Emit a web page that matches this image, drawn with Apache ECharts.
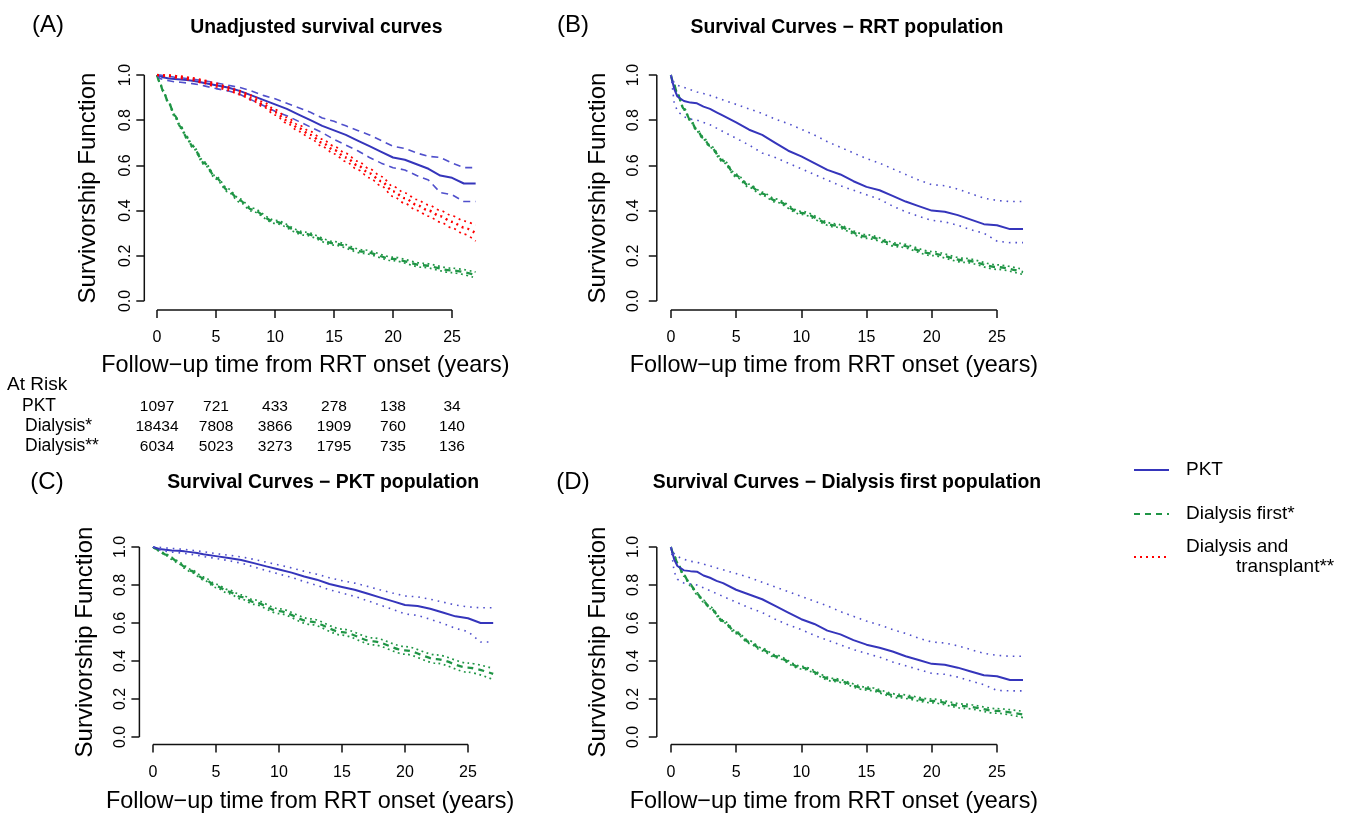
<!DOCTYPE html>
<html><head><meta charset="utf-8">
<script src="https://cdn.jsdelivr.net/npm/echarts@6/dist/echarts.min.js"></script>
<style>html,body{margin:0;padding:0;background:#fff}#c{width:1352px;height:815px}</style>
</head><body><div id="c"></div>
<script>
const FONT = '"Liberation Sans", Arial, Helvetica, sans-serif';

// ---- tick labels / texts ----
const xTicks = [0, 5, 10, 15, 20, 25];
const yTicks = [0, 0.2, 0.4, 0.6, 0.8, 1.0];
const panelLabels = ['(A)', '(B)', '(C)', '(D)'];
const panelTitles = ['Unadjusted survival curves', 'Survival Curves \u2212 RRT population',
  'Survival Curves \u2212 PKT population', 'Survival Curves \u2212 Dialysis first population'];
const xTitle = 'Follow\u2212up time from RRT onset (years)';
const yTitle = 'Survivorship Function';
const seriesNames = ['PKT', 'Dialysis first*', 'Dialysis and transplant**'];

// ---- at-risk table (panel A) ----
const atRiskTimes = [0, 5, 10, 15, 20, 25];
const atRiskLabels = ['PKT', 'Dialysis*', 'Dialysis**'];
const atRiskPKT = [1097, 721, 433, 278, 138, 34];
const atRiskDialysis = [18434, 7808, 3866, 1909, 760, 140];
const atRiskDialysisTx = [6034, 5023, 3273, 1795, 735, 136];

// ---- time grids ----
const tKM = [0,0.25,0.5,1,1.5,2,2.5,3,3.5,4,5,6,7,8,9,10,11,12,13,14,15,16,17,18,19,20,21,22,23,24,25,26,27];
const tYear = [0,1,2,3,4,5,6,7,8,9,10,11,12,13,14,15,16,17,18,19,20,21,22,23,24,25,26,27];
const tG = [0,0.25,0.5,1,1.5,2,2.5,3,4,5,6,7,8,10,12.5,15,17.5,20,22.5,25,27];

// ---- Panel A ----
const pktA   = [1.0,.995,.99,.985,.982,.98,.978,.975,.97,.965,.955,.945,.93,.91,.89,.87,.85,.825,.80,.775,.755,.735,.71,.685,.66,.635,.625,.605,.585,.555,.545,.52,.52];
const pktAUp = [1.0,1.0,.998,.995,.99,.988,.985,.982,.978,.975,.965,.955,.945,.93,.91,.895,.875,.855,.835,.81,.795,.775,.755,.735,.71,.685,.675,.655,.64,.635,.61,.59,.59];
const pktALo = [1.0,.985,.98,.975,.97,.968,.965,.962,.958,.952,.94,.93,.915,.89,.865,.84,.82,.795,.77,.745,.715,.69,.665,.635,.61,.59,.58,.555,.535,.48,.47,.44,.44];
const dialA   = [1.0,.965,.93,.875,.82,.77,.725,.685,.61,.545,.49,.445,.405,.35,.298,.255,.218,.186,.158,.135,.115];
const dialAUp = [1.0,.967,.933,.879,.825,.775,.73,.69,.616,.551,.497,.452,.412,.357,.305,.263,.226,.194,.167,.145,.128];
const dialALo = [1.0,.963,.927,.871,.815,.765,.72,.68,.604,.539,.483,.438,.398,.343,.291,.247,.21,.178,.149,.125,.102];
const txA   = [1.0,.997,.99,.982,.97,.955,.94,.922,.90,.87,.835,.80,.765,.735,.70,.668,.635,.60,.565,.53,.485,.455,.425,.40,.375,.35,.325,.30];
const txAUp = [1.0,1.0,.995,.988,.977,.963,.948,.931,.91,.881,.847,.813,.779,.75,.716,.685,.653,.619,.585,.551,.507,.478,.449,.425,.401,.377,.354,.335];
const txALo = [1.0,.993,.985,.976,.963,.947,.932,.913,.89,.859,.823,.787,.751,.72,.684,.651,.617,.581,.545,.509,.463,.432,.401,.375,.349,.323,.296,.265];

// ---- Panel B ----
const pktB   = [1.0,.94,.905,.885,.878,.875,.86,.85,.835,.82,.79,.758,.735,.70,.665,.64,.61,.58,.56,.53,.505,.49,.465,.44,.42,.40,.395,.38,.36,.34,.335,.318,.318];
const pktBUp = [1.0,.965,.955,.945,.935,.925,.918,.91,.90,.89,.87,.85,.83,.805,.785,.76,.735,.705,.68,.655,.63,.61,.585,.56,.535,.515,.51,.495,.475,.455,.445,.44,.44];
const pktBLo = [1.0,.88,.84,.815,.805,.80,.79,.78,.765,.75,.72,.69,.655,.635,.61,.585,.56,.535,.51,.49,.47,.45,.42,.395,.375,.357,.35,.335,.315,.30,.265,.258,.258];
const dialB   = [1.0,.955,.915,.85,.80,.755,.72,.685,.62,.555,.51,.475,.445,.39,.335,.285,.247,.21,.18,.15,.128];
const dialBUp = [1.0,.958,.918,.854,.805,.76,.725,.69,.626,.561,.517,.482,.452,.397,.342,.293,.255,.219,.189,.16,.14];
const dialBLo = [1.0,.952,.912,.846,.795,.75,.715,.68,.614,.549,.503,.468,.438,.383,.328,.277,.239,.201,.171,.14,.117];

// ---- Panel C ----
const pktC   = [1.0,.995,.99,.985,.982,.98,.977,.973,.968,.962,.952,.942,.932,.915,.898,.882,.865,.845,.828,.805,.79,.775,.755,.735,.715,.695,.69,.675,.655,.635,.625,.60,.60];
const pktCUp = [1.0,1.0,.998,.995,.992,.99,.987,.984,.98,.975,.965,.957,.948,.935,.92,.905,.89,.872,.857,.838,.823,.81,.793,.775,.758,.742,.738,.725,.71,.695,.685,.68,.68];
const pktCLo = [1.0,.99,.985,.978,.973,.97,.967,.962,.956,.95,.94,.928,.915,.895,.876,.858,.84,.818,.798,.775,.758,.74,.718,.695,.672,.648,.64,.62,.598,.572,.555,.50,.50];
const dialC   = [1.0,.99,.98,.96,.94,.92,.895,.875,.835,.795,.765,.737,.71,.662,.607,.552,.503,.456,.41,.365,.332];
const dialCUp = [1.0,.992,.983,.964,.945,.926,.901,.882,.843,.804,.775,.748,.722,.675,.622,.568,.521,.476,.432,.389,.36];
const dialCLo = [1.0,.988,.977,.956,.935,.914,.889,.868,.827,.786,.755,.726,.698,.649,.592,.536,.485,.436,.388,.341,.302];

// ---- Panel D ----
const pktD   = [1.0,.935,.90,.877,.873,.87,.85,.838,.822,.81,.775,.75,.725,.69,.655,.62,.595,.56,.54,.51,.486,.47,.45,.425,.405,.385,.38,.365,.345,.325,.32,.30,.30];
const pktDUp = [1.0,.965,.95,.935,.925,.92,.91,.90,.89,.88,.86,.84,.815,.79,.765,.74,.715,.69,.66,.635,.61,.59,.565,.545,.52,.50,.495,.48,.46,.44,.43,.425,.425];
const pktDLo = [1.0,.87,.83,.81,.805,.80,.785,.77,.755,.74,.71,.68,.655,.62,.59,.565,.535,.51,.485,.46,.44,.42,.395,.375,.355,.335,.33,.315,.295,.275,.245,.243,.243];
const dialD   = [1.0,.955,.915,.85,.80,.755,.715,.68,.61,.55,.50,.46,.425,.365,.30,.255,.215,.19,.162,.137,.118];
const dialDUp = [1.0,.958,.918,.854,.805,.76,.72,.685,.616,.556,.507,.467,.432,.372,.308,.263,.224,.2,.173,.149,.135];
const dialDLo = [1.0,.952,.912,.846,.795,.75,.71,.675,.604,.544,.493,.453,.418,.358,.292,.247,.206,.18,.151,.125,.102];

// ---- styling / layout ----
const BLUE = '#3535bb', BLUE_CI = '#5050cc', GREEN = '#1f9545', RED = '#ff0000';
const xMin = -1.08, xMax = 28.08, yMin = -0.04, yMax = 1.04;
const layout = [
  {left:144.3, top:66,    width:344.1, height:244,   yLabM:11, yNameGap:44, xNameGap:44, xShift:22, lblX:48,  lblY:13,  ttlY:18},
  {left:656.8, top:66,    width:380.3, height:244,   yLabM:15, yNameGap:46.5, xNameGap:44, xShift:26, lblX:573, lblY:13,  ttlY:18},
  {left:139.4, top:539.4, width:367.4, height:205.2, yLabM:11, yNameGap:42.5, xNameGap:45, xShift:26, lblX:47,  lblY:470, ttlY:473},
  {left:656.8, top:539.4, width:380.3, height:205.2, yLabM:15, yNameGap:46.5, xNameGap:45, xShift:26, lblX:573, lblY:470, ttlY:473}
];

const panelData = [
  {pkt:[pktA,pktAUp,pktALo], ciType:[7,5], dial:[dialA,dialAUp,dialALo], tx:[txA,txAUp,txALo]},
  {pkt:[pktB,pktBUp,pktBLo], ciType:[1.6,5], dial:[dialB,dialBUp,dialBLo]},
  {pkt:[pktC,pktCUp,pktCLo], ciType:[1.6,5], dial:[dialC,dialCUp,dialCLo]},
  {pkt:[pktD,pktDUp,pktDLo], ciType:[1.6,5], dial:[dialD,dialDUp,dialDLo]}
];

const zip = (t, v) => t.map((x, i) => [x, v[i]]);
const grids = [], xAxes = [], yAxes = [], series = [], titles = [];

layout.forEach((L, i) => {
  grids.push({left:L.left, top:L.top, width:L.width, height:L.height, containLabel:false});
  xAxes.push({
    type:'value', gridIndex:i, min:xMin, max:xMax,
    splitLine:{show:false}, axisLine:{show:false, onZero:false},
    axisTick:{show:true, customValues:xTicks, length:8, lineStyle:{color:'#111', width:1.5}},
    axisLabel:{customValues:xTicks, margin:20, fontSize:16, color:'#000', fontFamily:FONT},
    name:xTitle, nameLocation:'middle', nameGap:L.xNameGap,
    nameTextStyle:{fontSize:23.4, color:'#000', fontFamily:FONT, padding:[0, L.xShift, 0, 0]}
  });
  yAxes.push({
    type:'value', gridIndex:i, min:yMin, max:yMax,
    splitLine:{show:false}, axisLine:{show:false, onZero:false},
    axisTick:{show:true, customValues:yTicks, length:8, lineStyle:{color:'#111', width:1.5}},
    axisLabel:{customValues:yTicks, rotate:90, margin:L.yLabM, fontSize:16, color:'#000', fontFamily:FONT,
      formatter:v => v.toFixed(1)},
    name:yTitle, nameLocation:'middle', nameGap:L.yNameGap,
    nameTextStyle:{fontSize:24, color:'#000', fontFamily:FONT}
  });
  titles.push({text:panelLabels[i], left:L.lblX, top:L.lblY, textAlign:'center', padding:0,
    textStyle:{fontSize:24, fontWeight:'normal', color:'#000', fontFamily:FONT}});
  titles.push({text:panelTitles[i], left:L.left + L.width / 2, top:L.ttlY, textAlign:'center', padding:0,
    textStyle:{fontSize:19.4, fontWeight:'bold', color:'#000', fontFamily:FONT}});

  // R-style axis lines spanning first..last tick
  series.push({
    type:'custom', xAxisIndex:i, yAxisIndex:i, silent:true, clip:false, data:[[0, 0]], z:1,
    renderItem:(params, api) => {
      const a = api.coord([xTicks[0], yMin]), b = api.coord([xTicks[xTicks.length - 1], yMin]);
      const c = api.coord([xMin, yTicks[0]]), d = api.coord([xMin, yTicks[yTicks.length - 1]]);
      const st = {stroke:'#111', lineWidth:1.5};
      return {type:'group', children:[
        {type:'line', shape:{x1:a[0], y1:a[1], x2:b[0], y2:b[1]}, style:st},
        {type:'line', shape:{x1:c[0], y1:c[1], x2:d[0], y2:d[1]}, style:st}
      ]};
    }
  });

  const P = panelData[i];
  const base = {type:'line', xAxisIndex:i, yAxisIndex:i, symbol:'none', silent:true, animation:false};
  // green: dialysis first
  series.push(Object.assign({}, base, {name:seriesNames[1], data:zip(tG, P.dial[0]), smooth:0.3, smoothMonotone:'x', z:3,
    lineStyle:{color:GREEN, width:2.3, type:[6, 5]}, itemStyle:{color:GREEN}}));
  series.push(Object.assign({}, base, {name:'Dialysis first* upper', data:zip(tG, P.dial[1]), smooth:0.3, smoothMonotone:'x', z:3,
    lineStyle:{color:GREEN, width:1.7, type:[1.8, 3.5]}, itemStyle:{color:GREEN}}));
  series.push(Object.assign({}, base, {name:'Dialysis first* lower', data:zip(tG, P.dial[2]), smooth:0.3, smoothMonotone:'x', z:3,
    lineStyle:{color:GREEN, width:1.7, type:[1.8, 3.5]}, itemStyle:{color:GREEN}}));
  // blue: PKT
  series.push(Object.assign({}, base, {name:seriesNames[0], data:zip(tKM, P.pkt[0]), z:4,
    lineStyle:{color:BLUE, width:2, type:'solid'}, itemStyle:{color:BLUE}}));
  series.push(Object.assign({}, base, {name:'PKT upper', data:zip(tKM, P.pkt[1]), z:4,
    lineStyle:{color:BLUE_CI, width:1.6, type:P.ciType}, itemStyle:{color:BLUE_CI}}));
  series.push(Object.assign({}, base, {name:'PKT lower', data:zip(tKM, P.pkt[2]), z:4,
    lineStyle:{color:BLUE_CI, width:1.6, type:P.ciType}, itemStyle:{color:BLUE_CI}}));
  // red: dialysis and transplant (panel A only)
  if (P.tx) {
    series.push(Object.assign({}, base, {name:seriesNames[2], data:zip(tYear, P.tx[0]), smooth:0.3, smoothMonotone:'x', z:5,
      lineStyle:{color:RED, width:2.4, type:[2, 4]}, itemStyle:{color:RED}}));
    series.push(Object.assign({}, base, {name:'Dialysis and transplant** upper', data:zip(tYear, P.tx[1]), smooth:0.3, smoothMonotone:'x', z:5,
      lineStyle:{color:RED, width:1.7, type:[2, 4]}, itemStyle:{color:RED}}));
    series.push(Object.assign({}, base, {name:'Dialysis and transplant** lower', data:zip(tYear, P.tx[2]), smooth:0.3, smoothMonotone:'x', z:5,
      lineStyle:{color:RED, width:1.7, type:[2, 4]}, itemStyle:{color:RED}}));
  }
});

const legendText = {fontSize:19, color:'#000', fontFamily:FONT, lineHeight:20, padding:[0, 0, 0, 12]};
const hiddenSymbol = {color:'rgba(0,0,0,0)', borderColor:'rgba(0,0,0,0)', borderWidth:0, opacity:0};
const legends = [
  {data:[seriesNames[0]], left:1133, top:460},
  {data:[seriesNames[1]], left:1133, top:504},
  {data:[seriesNames[2]], left:1133, top:537,
    formatter:() => '{a|Dialysis and}\n{b|transplant**}',
    textStyle:Object.assign({}, legendText, {rich:{
      a:{fontSize:19, fontFamily:FONT, color:'#000', lineHeight:20},
      b:{fontSize:19, fontFamily:FONT, color:'#000', lineHeight:20, padding:[0, 0, 0, 50]}}})}
].map(l => Object.assign({orient:'vertical', itemWidth:35, itemHeight:14, padding:0, selectedMode:false,
  textStyle:legendText, itemStyle:hiddenSymbol}, l));

const chart = echarts.init(document.getElementById('c'), null, {renderer:'canvas'});
chart.setOption({
  backgroundColor:'#fff', animation:false,
  title:titles, grid:grids, xAxis:xAxes, yAxis:yAxes, series:series, legend:legends
});

// at-risk table under panel A, columns aligned to the x ticks of panel A
const graphics = [{type:'text', left:7, top:375, style:{text:'At Risk', fontSize:19, fontFamily:FONT, fill:'#000'}}];
const rowY = [406.5, 426.5, 446.5];
const rowX = [22, 25, 25];
const rows = [atRiskPKT, atRiskDialysis, atRiskDialysisTx];
rows.forEach((vals, r) => {
  graphics.push({type:'text', x:rowX[r], y:rowY[r], style:{text:atRiskLabels[r], fontSize:17.5, fontFamily:FONT, fill:'#000', textVerticalAlign:'middle', verticalAlign:'middle'}});
  vals.forEach((v, k) => {
    const px = chart.convertToPixel({xAxisIndex:0}, atRiskTimes[k]);
    graphics.push({type:'text', x:px, y:rowY[r], style:{text:String(v), fontSize:15.5, fontFamily:FONT, fill:'#000',
      align:'center', textAlign:'center', verticalAlign:'middle', textVerticalAlign:'middle'}});
  });
});
chart.setOption({graphic:graphics});
</script>
</body></html>
